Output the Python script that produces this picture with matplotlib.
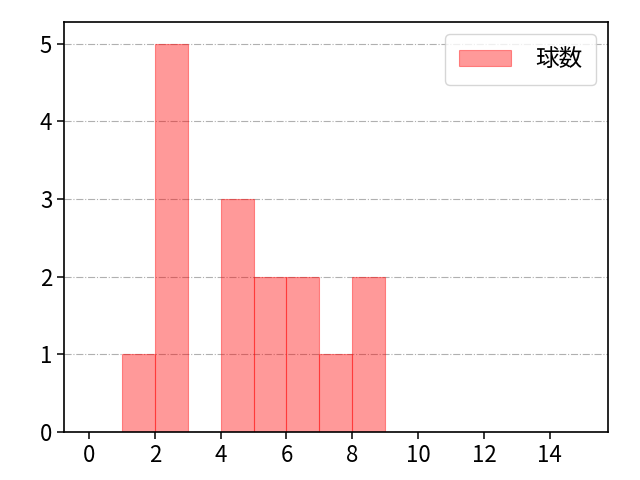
import matplotlib
matplotlib.use("Agg")
import matplotlib.pyplot as plt
import numpy as np

plt.rcParams['font.family'] = ['Noto Sans CJK JP', 'DejaVu Sans']

# histogram bins (left edges) and counts
bin_edges = [1, 2, 3, 4, 5, 6, 7, 8, 9]
counts = [1, 5, 0, 3, 2, 2, 1, 2]
label = "球数"

centers = np.array(bin_edges[:-1]) + 0.5

fig, ax = plt.subplots(figsize=(6.4, 4.8), dpi=100)
ax.hist(centers, bins=bin_edges, weights=counts, color='red', alpha=0.4,
        edgecolor='red', linewidth=0.8, label=label)
ax.set_xlim(-0.76, 15.77)
ax.set_ylim(0, 5.28)
ax.set_xticks(np.arange(0, 15, 2))
ax.set_yticks(np.arange(0, 6, 1))
ax.grid(axis='y', linestyle='-.', color='#b0b0b0', linewidth=0.8)
ax.set_axisbelow(True)
ax.tick_params(labelsize=16, length=5, width=1.1)
for sp in ax.spines.values():
    sp.set_linewidth(1.2)
ax.legend(loc='upper right', fontsize=17, handlelength=2.2, handletextpad=1.0,
          borderpad=0.6)
plt.subplots_adjust(left=0.1, right=0.95, bottom=0.1, top=0.954)
plt.savefig("out.png")
